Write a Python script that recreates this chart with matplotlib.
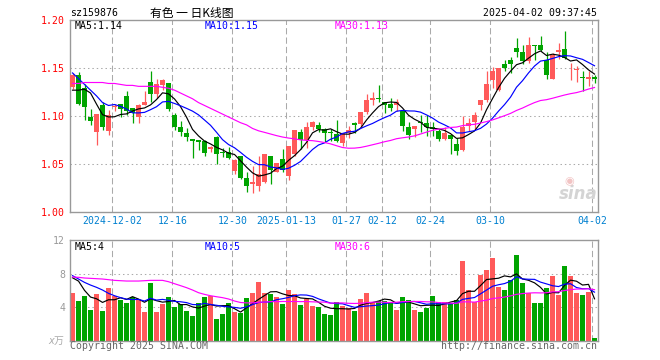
import matplotlib
matplotlib.use('Agg')
import matplotlib.pyplot as plt
import matplotlib.transforms as mtransforms
import numpy as np
import pandas as pd

# daily candles, 2024-11-21 .. 2025-04-02
opens = [1.130, 1.143, 1.129, 1.099, 1.083, 1.112, 1.084, 1.109, 1.113, 1.121,
         1.108, 1.099, 1.112, 1.136, 1.123, 1.132, 1.134, 1.101, 1.088, 1.082,
         1.076, 1.075, 1.074, 1.066, 1.078, 1.062, 1.062, 1.043, 1.058, 1.035,
         1.029, 1.027, 1.031, 1.058, 1.042, 1.055, 1.037, 1.060, 1.083, 1.075,
         1.089, 1.091, 1.086, 1.083, 1.081, 1.072, 1.082, 1.093, 1.092, 1.104,
         1.117, 1.119, 1.115, 1.113, 1.111, 1.105, 1.088, 1.086, 1.093, 1.093,
         1.088, 1.084, 1.076, 1.080, 1.071, 1.064, 1.090, 1.094, 1.112, 1.117,
         1.138, 1.127, 1.154, 1.158, 1.171, 1.167, 1.157, 1.174, 1.174, 1.158,
         1.139, 1.167, 1.170, 1.1497, 1.148, 1.141, 1.139, 1.141]
highs = [1.145, 1.146, 1.133, 1.107, 1.102, 1.115, 1.106, 1.113, 1.113, 1.126,
         1.108, 1.113, 1.126, 1.147, 1.139, 1.139, 1.134, 1.103, 1.095, 1.087,
         1.076, 1.075, 1.075, 1.069, 1.079, 1.067, 1.068, 1.055, 1.058, 1.041,
         1.048, 1.058, 1.060, 1.058, 1.051, 1.065, 1.069, 1.085, 1.086, 1.094,
         1.095, 1.094, 1.087, 1.086, 1.096, 1.082, 1.090, 1.094, 1.104, 1.123,
         1.125, 1.132, 1.115, 1.119, 1.118, 1.105, 1.094, 1.090, 1.101, 1.101,
         1.094, 1.086, 1.089, 1.080, 1.077, 1.100, 1.098, 1.104, 1.117, 1.147,
         1.151, 1.150, 1.158, 1.162, 1.181, 1.174, 1.183, 1.174, 1.184, 1.167,
         1.166, 1.176, 1.189, 1.155, 1.152, 1.147, 1.147, 1.143]
lows = [1.128, 1.111, 1.096, 1.091, 1.070, 1.085, 1.080, 1.105, 1.099, 1.101,
        1.093, 1.093, 1.112, 1.115, 1.119, 1.127, 1.105, 1.085, 1.079, 1.074,
        1.056, 1.064, 1.058, 1.062, 1.050, 1.057, 1.055, 1.039, 1.034, 1.021,
        1.020, 1.022, 1.030, 1.029, 1.041, 1.042, 1.033, 1.058, 1.065, 1.067,
        1.085, 1.083, 1.073, 1.074, 1.073, 1.069, 1.077, 1.082, 1.088, 1.102,
        1.112, 1.115, 1.103, 1.105, 1.105, 1.084, 1.076, 1.078, 1.083, 1.079,
        1.079, 1.074, 1.075, 1.060, 1.059, 1.063, 1.084, 1.085, 1.106, 1.115,
        1.129, 1.126, 1.147, 1.145, 1.162, 1.154, 1.155, 1.159, 1.168, 1.139,
        1.139, 1.160, 1.160, 1.138, 1.136, 1.126, 1.131, 1.134]
closes = [1.143, 1.113, 1.109, 1.095, 1.102, 1.088, 1.101, 1.110, 1.107, 1.105,
          1.103, 1.112, 1.115, 1.123, 1.133, 1.138, 1.107, 1.088, 1.083, 1.078,
          1.074, 1.073, 1.061, 1.068, 1.060, 1.061, 1.056, 1.054, 1.035, 1.027,
          1.031, 1.039, 1.060, 1.044, 1.051, 1.044, 1.069, 1.085, 1.075, 1.089,
          1.094, 1.086, 1.082, 1.082, 1.074, 1.082, 1.085, 1.091, 1.104, 1.117,
          1.119, 1.118, 1.111, 1.108, 1.115, 1.090, 1.080, 1.090, 1.0925, 1.088,
          1.086, 1.076, 1.082, 1.076, 1.063, 1.089, 1.093, 1.101, 1.117, 1.133,
          1.147, 1.150, 1.150, 1.154, 1.167, 1.157, 1.174, 1.173, 1.169, 1.143,
          1.164, 1.169, 1.161, 1.1503, 1.1487, 1.140, 1.141, 1.139]
# volume, 万
volumes = [5.72, 4.73, 5.32, 3.66, 5.56, 3.54, 6.32, 5.32, 4.85, 4.53,
           5.24, 4.85, 3.42, 6.91, 3.42, 4.37, 5.24, 4.05, 4.37, 3.54,
           2.94, 4.53, 5.24, 5.36, 2.58, 3.18, 4.53, 3.42, 3.34, 5.13,
           5.68, 7.03, 5.72, 5.56, 5.24, 4.37, 6.04, 5.56, 4.25, 4.93,
           4.13, 4.05, 3.18, 3.06, 4.65, 4.13, 3.85, 3.54, 4.97, 5.72,
           4.65, 4.73, 4.73, 4.53, 3.66, 5.24, 4.85, 3.66, 3.42, 3.93,
           5.32, 4.65, 4.65, 4.45, 4.81, 9.50, 6.04, 4.65, 7.83, 8.42,
           9.89, 6.44, 6.04, 7.23, 10.21, 6.87, 5.64, 4.53, 4.53, 6.32,
           7.71, 5.44, 8.90, 7.71, 5.68, 5.44, 5.84, 0.28]

# moving-average values before the window fills
ma5_head = [1.127, 1.127, 1.128, 1.124]
ma10_head = [1.145, 1.139, 1.133, 1.127, 1.121, 1.114, 1.111, 1.112, 1.110]
ma30_head = [1.134, 1.134, 1.135, 1.135, 1.135, 1.135, 1.134, 1.134, 1.133, 1.132,
             1.132, 1.131, 1.131, 1.131, 1.131, 1.130, 1.129, 1.127, 1.124, 1.121,
             1.118, 1.114, 1.111, 1.108, 1.105, 1.102, 1.099, 1.096, 1.093]
vma5_head = [7.5, 7.1, 6.0, 5.2]
vma10_head = [7.75, 7.35, 6.95, 6.63, 6.36, 6.04, 5.64, 5.36, 5.13]
vma30_head = [7.59, 7.55, 7.47, 7.43, 7.39, 7.35, 7.27, 7.19, 7.15, 7.11,
              7.11, 7.11, 7.15, 7.19, 7.19, 7.19, 7.03, 6.79, 6.56, 6.32,
              6.04, 5.72, 5.52, 5.36, 5.24, 5.13, 4.97, 4.73, 4.55]

tick_pos = [7, 17, 27, 36, 46, 52, 60, 70, 87]
tick_labels = ['2024-12-02', '12-16', '12-30', '2025-01-13', '01-27',
               '02-12', '02-24', '03-10', '04-02']


def moving(values, n, head):
    s = pd.Series(values).rolling(n).mean().to_numpy()
    s[:len(head)] = head
    return s


RED = '#ff5a5a'
GREEN = '#00a400'
GRID = '#aaaaaa'
MONO = 'DejaVu Sans Mono'
FS = 7.1

x = np.arange(len(closes))
o = np.array(opens)
c = np.array(closes)
cols = [RED if cc >= oo else GREEN for oo, cc in zip(o, c)]

fig = plt.figure(figsize=(6.6, 3.6), dpi=100)
W, H = 660.0, 360.0
ax = fig.add_axes([70 / W, 1 - 211.7 / H, 528 / W, 191.4 / H])
axv = fig.add_axes([70 / W, 1 - 340.7 / H, 528 / W, 100.7 / H])

for a in (ax, axv):
    a.set_xlim(-0.42, len(closes) - 0.42)
    for s in a.spines.values():
        s.set_color('#999999')
        s.set_linewidth(1.0)
    a.tick_params(length=0)
    a.set_xticks([])
    for t in tick_pos:
        a.axvline(t - 0.37, color=GRID, lw=0.75, ls=(0, (6, 3)), zorder=0)

# price panel
ax.set_ylim(1.00, 1.20)
for p in [1.05, 1.10, 1.15]:
    ax.axhline(p, color=GRID, lw=0.75, ls=(0, (1.4, 2.8)), zorder=0)
ax.vlines(x, lows, highs, colors=cols, lw=0.9, zorder=2)
bottoms = np.minimum(o, c)
heights = np.maximum(np.abs(c - o), 0.0009)
ax.bar(x, heights, bottom=bottoms, width=0.76, color=cols, linewidth=0, zorder=3)

ax.plot(x, moving(closes, 5, ma5_head), color='black', lw=0.85, zorder=4)
ax.plot(x, moving(closes, 10, ma10_head), color='#0000ff', lw=0.85, zorder=4)
ax.plot(x, moving(closes, 30, ma30_head), color='#ff00ff', lw=0.85, zorder=4)

ax.set_yticks([1.00, 1.05, 1.10, 1.15, 1.20])
ax.set_yticklabels(['1.00', '1.05', '1.10', '1.15', '1.20'], color='#ff0000',
                   family=MONO, fontsize=FS)
ax.tick_params(axis='y', pad=3.5)

trans = mtransforms.blended_transform_factory(ax.transData, ax.transAxes)
for t, lab in zip(tick_pos, tick_labels):
    ax.text(t - 0.37, -0.051, lab, transform=trans, ha='center', va='center',
            color='#0080d0', family=MONO, fontsize=FS)

ax.text(0.0095, 0.968, 'MA5:1.14', transform=ax.transAxes, va='center',
        color='black', family=MONO, fontsize=FS)
ax.text(0.2557, 0.968, 'MA10:1.15', transform=ax.transAxes, va='center',
        color='#0000ff', family=MONO, fontsize=FS)
ax.text(0.502, 0.968, 'MA30:1.13', transform=ax.transAxes, va='center',
        color='#ff00ff', family=MONO, fontsize=FS)

# sina watermark
ax.text(0.962, 0.09, 'sina', transform=ax.transAxes, ha='center', va='center',
        color='#d4d4d4', fontsize=12, fontweight='bold', fontstyle='italic',
        family='DejaVu Sans', zorder=1)
ax.text(0.945, 0.16, '◉', transform=ax.transAxes, ha='center', va='center',
        color='#f2c4c4', fontsize=8, family='DejaVu Sans', zorder=1)

# volume panel
axv.set_ylim(0, 12)
for p in [4, 8]:
    axv.axhline(p, color=GRID, lw=0.75, ls=(0, (1.4, 2.8)), zorder=0)
axv.bar(x, volumes, width=0.84, color=cols, linewidth=0, zorder=2)
axv.plot(x, moving(volumes, 5, vma5_head), color='black', lw=0.85, zorder=3)
axv.plot(x, moving(volumes, 10, vma10_head), color='#0000ff', lw=0.85, zorder=3)
axv.plot(x, moving(volumes, 30, vma30_head), color='#ff00ff', lw=0.85, zorder=3)
axv.set_yticks([4, 8, 12])
axv.set_yticklabels(['4', '8', '12'], color='#999999', family=MONO, fontsize=FS)
axv.tick_params(axis='y', pad=3.5)

axv.text(0.0095, 0.93, 'MA5:4', transform=axv.transAxes, va='center',
         color='black', family=MONO, fontsize=FS)
axv.text(0.2557, 0.93, 'MA10:5', transform=axv.transAxes, va='center',
         color='#0000ff', family=MONO, fontsize=FS)
axv.text(0.502, 0.93, 'MA30:6', transform=axv.transAxes, va='center',
         color='#ff00ff', family=MONO, fontsize=FS)

# header / footer
fig.text(70 / W, 1 - 13.5 / H, 'sz159876', va='center', ha='left',
         color='black', family=MONO, fontsize=FS)
fig.text(150 / W, 1 - 13 / H, '有色 一 日K线图', va='center', ha='left',
         color='black', family=['Noto Sans CJK SC', 'DejaVu Sans'], fontsize=8.5)
fig.text(597 / W, 1 - 13.5 / H, '2025-04-02 09:37:45', va='center', ha='right',
         color='black', family=MONO, fontsize=FS)
fig.text(64 / W, 1 - 341 / H, 'x万', va='center', ha='right', color='#aaaaaa',
         family=[MONO, 'Noto Sans CJK SC'], fontsize=FS, fontstyle='italic')
fig.text(70 / W, 1 - 346 / H, 'Copyright 2025 SINA.COM', va='center', ha='left',
         color='#666666', family=MONO, fontsize=FS)
fig.text(597 / W, 1 - 346 / H, 'http://finance.sina.com.cn', va='center',
         ha='right', color='#666666', family=MONO, fontsize=FS)

fig.savefig('out.png', dpi=100)
